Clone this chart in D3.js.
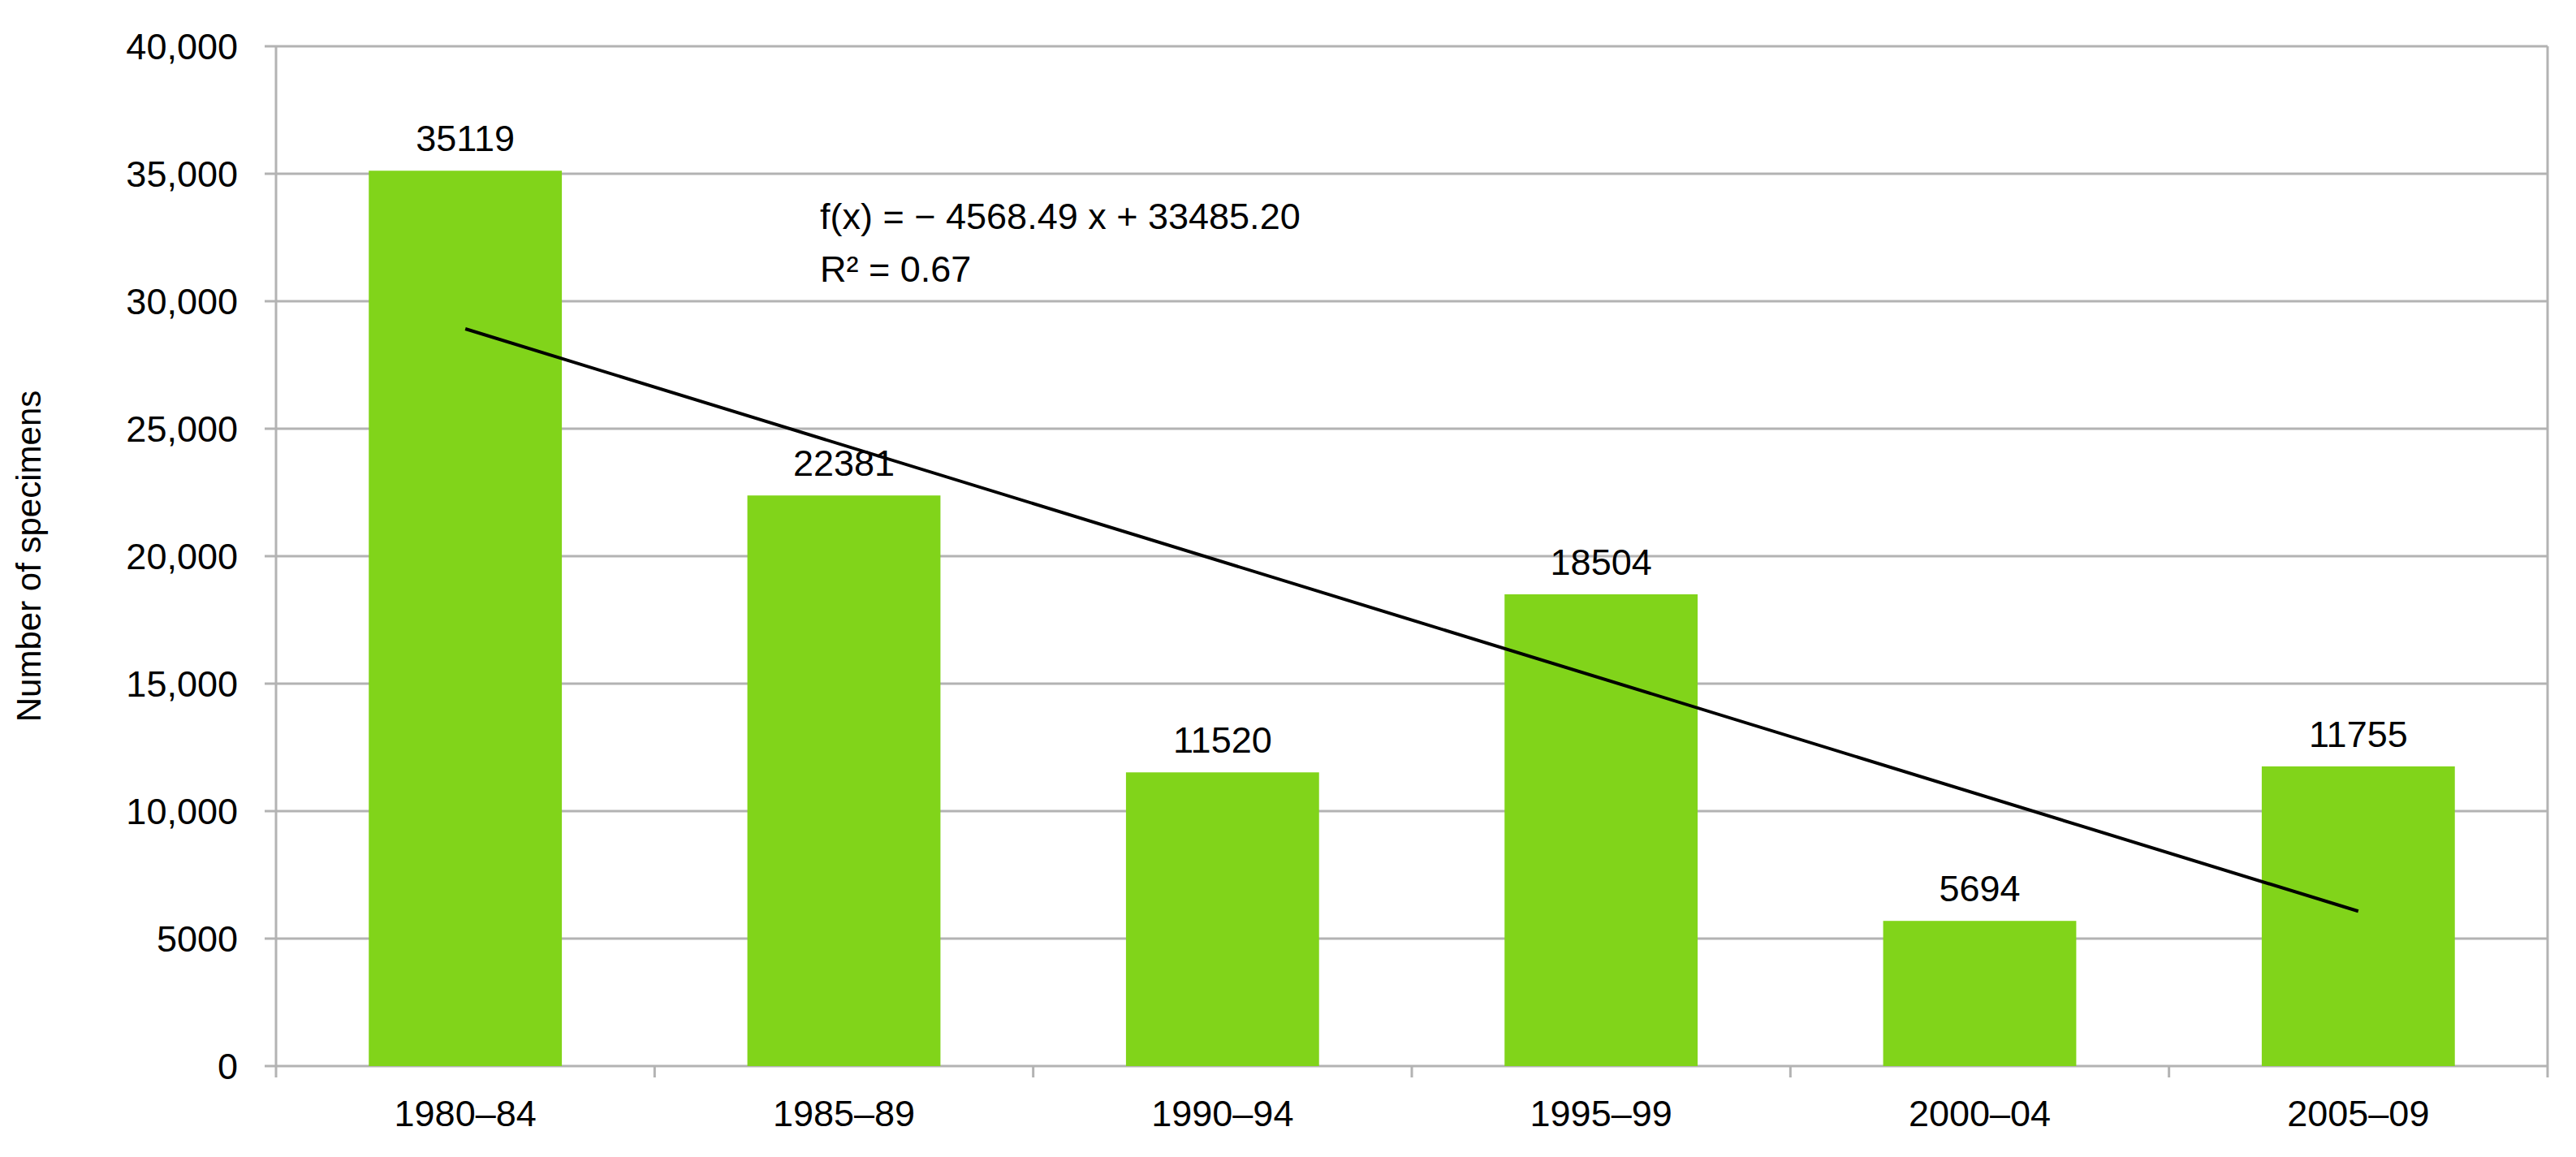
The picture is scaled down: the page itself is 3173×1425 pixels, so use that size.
<!DOCTYPE html>
<html>
<head>
<meta charset="utf-8">
<script src="https://cdn.jsdelivr.net/npm/d3@7"></script>
<style>
  body { margin: 0; background: #fff; }
  text { font-family: "Liberation Sans", Arial, sans-serif; fill: #000; }
</style>
</head>
<body>
<script>
var width = 3173,
  height = 1425,
  margin = {top: 57, right: 35, bottom: 112, left: 340}

var periods = ['1980–84', '1985–89', '1990–94', '1995–99', '2000–04', '2005–09']
var specimens = [35119, 22381, 11520, 18504, 5694, 11755]
var yTicks = [0, 5000, 10000, 15000, 20000, 25000, 30000, 35000, 40000]
var trendSlope = -4568.49,
  trendIntercept = 33485.20,
  trendR2 = 0.67

var svg = d3.select('body').append('svg')
  .attr('width', width)
  .attr('height', height)

var innerW = width - margin.left - margin.right,
  innerH = height - margin.top - margin.bottom

var g = svg.append('g')
  .attr('transform', 'translate(' + margin.left + ',' + margin.top + ')')

var x = d3.scaleBand()
  .domain(periods)
  .range([0, innerW])
  .paddingInner(0.49)
  .paddingOuter(0.245)

var y = d3.scaleLinear()
  .domain([0, 40000])
  .range([innerH, 0])

var fmt = function (d) { return d >= 10000 ? d3.format(',')(d) : String(d) }

// gridlines
g.selectAll('.grid')
  .data(yTicks)
  .enter().append('line')
  .attr('x1', -14)
  .attr('x2', innerW)
  .attr('y1', function (d) { return y(d) })
  .attr('y2', function (d) { return y(d) })
  .attr('stroke', '#b3b3b3')
  .attr('stroke-width', 3)

// axis lines
g.append('line')
  .attr('x1', 0).attr('x2', 0)
  .attr('y1', 0).attr('y2', innerH + 14)
  .attr('stroke', '#b3b3b3').attr('stroke-width', 3)
g.append('line')
  .attr('x1', innerW).attr('x2', innerW)
  .attr('y1', 0).attr('y2', innerH + 14)
  .attr('stroke', '#b3b3b3').attr('stroke-width', 3)

// x ticks at band boundaries
var step = x.step()
g.selectAll('.xtick')
  .data(periods.slice(1))
  .enter().append('line')
  .attr('x1', function (d, i) { return (i + 1) * step })
  .attr('x2', function (d, i) { return (i + 1) * step })
  .attr('y1', innerH)
  .attr('y2', innerH + 14)
  .attr('stroke', '#b3b3b3').attr('stroke-width', 3)

// y tick labels
g.selectAll('.ylab')
  .data(yTicks)
  .enter().append('text')
  .attr('x', -47)
  .attr('y', function (d) { return y(d) })
  .attr('dy', '0.36em')
  .attr('text-anchor', 'end')
  .style('font-size', '45px')
  .text(fmt)

// bars
g.selectAll('.bar')
  .data(specimens)
  .enter().append('rect')
  .attr('x', function (d, i) { return x(periods[i]) })
  .attr('y', function (d) { return y(d) })
  .attr('width', x.bandwidth())
  .attr('height', function (d) { return innerH - y(d) })
  .attr('fill', '#81d41a')

// value labels
g.selectAll('.val')
  .data(specimens)
  .enter().append('text')
  .attr('x', function (d, i) { return x(periods[i]) + x.bandwidth() / 2 })
  .attr('y', function (d) { return y(d) - 24 })
  .attr('text-anchor', 'middle')
  .style('font-size', '45px')
  .text(function (d) { return d })

// x labels
g.selectAll('.xlab')
  .data(periods)
  .enter().append('text')
  .attr('x', function (d) { return x(d) + x.bandwidth() / 2 })
  .attr('y', innerH + 74)
  .attr('text-anchor', 'middle')
  .style('font-size', '45px')
  .text(function (d) { return d })

// trend line
var trend = function (i) { return trendSlope * i + trendIntercept }
var cx = function (i) { return x(periods[i - 1]) + x.bandwidth() / 2 }
g.append('line')
  .attr('x1', cx(1)).attr('y1', y(trend(1)))
  .attr('x2', cx(periods.length)).attr('y2', y(trend(periods.length)))
  .attr('stroke', '#000').attr('stroke-width', 4)

g.append('text')
  .attr('x', 670).attr('y', 225)
  .style('font-size', '45px')
  .text('f(x) = − ' + Math.abs(trendSlope).toFixed(2) + ' x + ' + trendIntercept.toFixed(2))
g.append('text')
  .attr('x', 670).attr('y', 290)
  .style('font-size', '45px')
  .text('R² = ' + trendR2.toFixed(2))

// y axis title
svg.append('text')
  .attr('transform', 'translate(50,' + (margin.top + innerH / 2) + ') rotate(-90)')
  .attr('text-anchor', 'middle')
  .style('font-size', '42px')
  .text('Number of specimens')
</script>
</body>
</html>
